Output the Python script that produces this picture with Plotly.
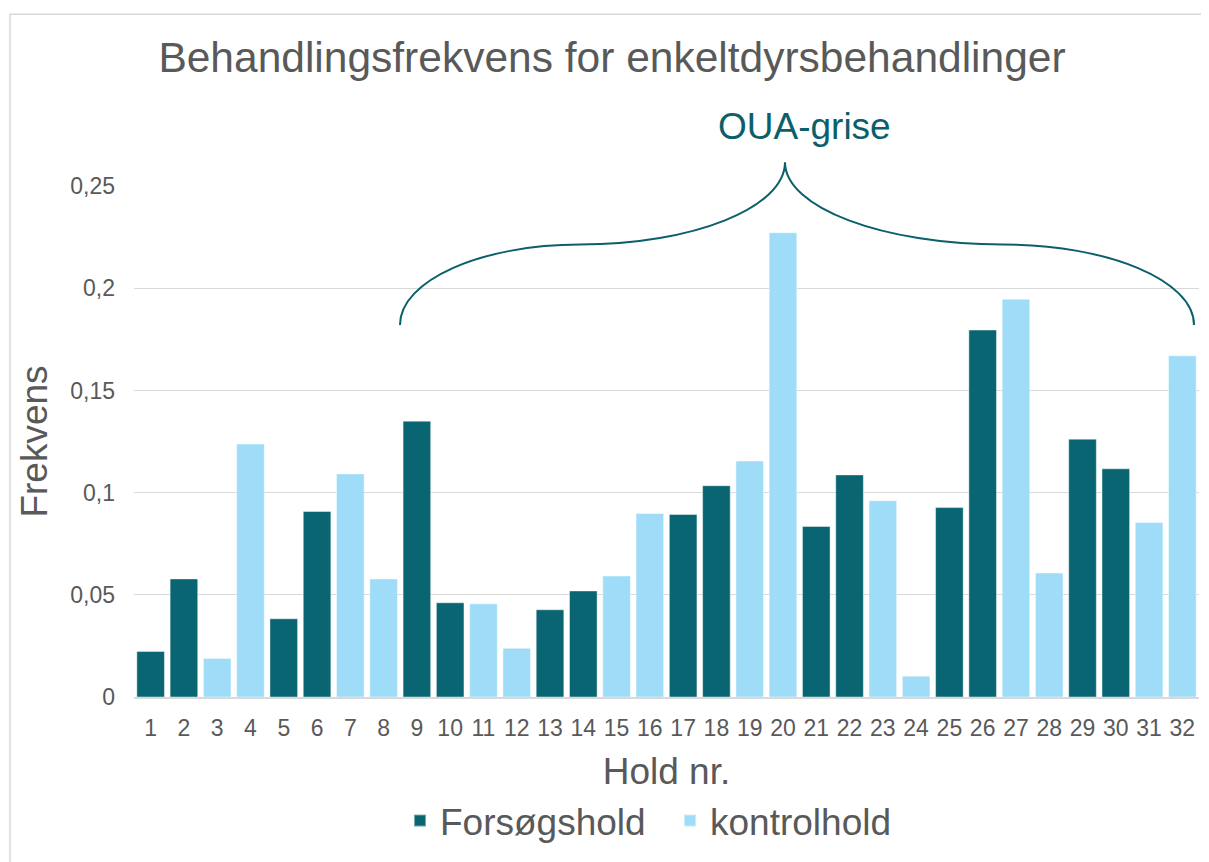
import plotly.graph_objects as go

holds = [str(i) for i in range(1, 33)]
forsogshold = [0.0223, 0.0578, None, None, 0.0383, 0.0908, None, None,
               0.1350, 0.0461, None, None, 0.0427, 0.0519, None, None,
               0.0893, 0.1034, None, None, 0.0835, 0.1087, None, None,
               0.0927, 0.1796, None, None, 0.1262, 0.1117, None, None]
kontrolhold = [None, None, 0.0189, 0.1238, None, None, 0.1092, 0.0578,
               None, None, 0.0456, 0.0238, None, None, 0.0592, 0.0898,
               None, None, 0.1155, 0.2272, None, None, 0.0961, 0.0102,
               None, None, 0.1947, 0.0607, None, None, 0.0854, 0.1670]
ytick_vals = [0, 0.05, 0.1, 0.15, 0.2, 0.25]
ytick_text = ["0", "0,05", "0,1", "0,15", "0,2", "0,25"]

OFF = 8  # page body margin
W, H = 1201, 854
L, R, T, B = 126, 10, 178, 161
PW, PH = W - L - R, H - T - B
FONT = "Liberation Sans, Arial, sans-serif"
GRAY = "#595959"
DARK = "#086571"
LIGHT = "#9FDCF7"
BRACE = "#0B5F6B"


def px(x):
    return (x - OFF - L) / PW


def py(y):
    return (H - B - (y - OFF)) / PH


def pt(x, y):
    return f"{px(x):.5f},{py(y):.5f}"


fig = go.Figure()
fig.add_bar(x=holds, y=forsogshold, name="Forsøgshold",
            marker=dict(color=DARK, line=dict(color="rgba(255,255,255,0.45)", width=1)))
fig.add_bar(x=holds, y=kontrolhold, name="kontrolhold",
            marker=dict(color=LIGHT, line=dict(color="rgba(255,255,255,0.45)", width=1)))

brace_path = (
    f"M {pt(400, 326)} "
    f"C {pt(400, 281.3)} {pt(480.6, 245)} {pt(580, 245)} "
    f"C {pt(693.2, 245)} {pt(785, 207.8)} {pt(785, 162)} "
    f"C {pt(785, 207.8)} {pt(882.6, 245)} {pt(1003, 245)} "
    f"C {pt(1108.5, 245)} {pt(1194, 281.3)} {pt(1194, 326)}"
)

fig.update_layout(
    width=W, height=H,
    margin=dict(l=L, r=R, t=T, b=B),
    paper_bgcolor="white", plot_bgcolor="white",
    barmode="overlay", bargap=0.17,
    font=dict(family=FONT, color=GRAY),
    title=dict(text="Behandlingsfrekvens for enkeltdyrsbehandlinger",
               font=dict(size=42.5, color=GRAY, family=FONT),
               x=(612 - OFF) / W, xanchor="center", y=1 - (57 - OFF) / H, yanchor="middle"),
    xaxis=dict(type="category", showgrid=False, showline=True,
               linecolor="#D9D9D9", linewidth=1.5, ticks="",
               tickfont=dict(size=23, color=GRAY), ticklabelstandoff=10,
               title=dict(text="Hold nr.", font=dict(size=37, color=GRAY), standoff=18)),
    yaxis=dict(range=[0, 0.2501], tickvals=ytick_vals, ticktext=ytick_text,
               showgrid=True, gridcolor="#D9D9D9", gridwidth=1, zeroline=False,
               ticks="", tickfont=dict(size=23, color=GRAY), ticklabelstandoff=18,
               title=dict(text="Frekvens", font=dict(size=37, color=GRAY), standoff=11)),
    legend=dict(orientation="h", xanchor="left", x=px(400), yanchor="middle",
                y=py(826), font=dict(size=37, color=GRAY), itemsizing="constant",
                entrywidthmode="pixels", entrywidth=225),
    shapes=[
        dict(type="rect", xref="paper", yref="paper",
             x0=px(10), x1=px(1215), y0=py(875), y1=py(13),
             line=dict(color="#D9D9D9", width=1.5), layer="below"),
        dict(type="path", xref="paper", yref="paper", path=brace_path,
             line=dict(color=BRACE, width=2)),
    ],
    annotations=[
        dict(text="OUA-grise", xref="paper", yref="paper", x=px(804), y=py(126),
             xanchor="center", yanchor="middle", showarrow=False,
             font=dict(size=37, color=BRACE, family=FONT)),
    ],
)

fig.write_html("out.html")
